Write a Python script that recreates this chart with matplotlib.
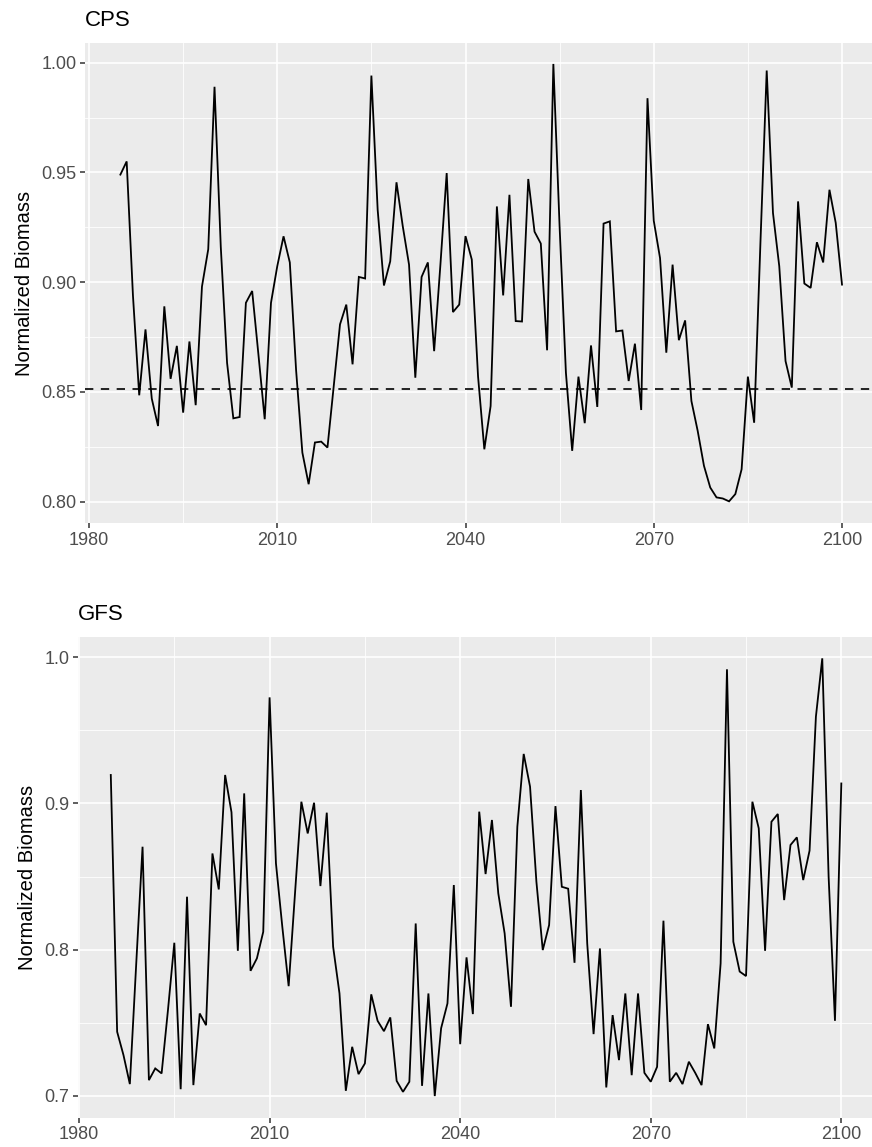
import numpy as np
import matplotlib
matplotlib.use("Agg")
import matplotlib.pyplot as plt
from matplotlib.ticker import FixedLocator, FixedFormatter

plt.rcParams['font.family'] = ['Liberation Sans', 'DejaVu Sans']

years = list(range(1985, 2101))

cps_biomass = [
    0.949, 0.955, 0.894, 0.8485, 0.8785, 0.847, 0.8345, 0.889, 0.856, 0.871,
    0.8406, 0.873, 0.844, 0.898, 0.915, 0.989, 0.916, 0.8633, 0.838, 0.8386,
    0.8906, 0.896, 0.867, 0.8376, 0.8906, 0.9073, 0.9209, 0.909, 0.860, 0.8224,
    0.808, 0.827, 0.8274, 0.8247, 0.8527, 0.8808, 0.8898, 0.8626, 0.9024, 0.9017,
    0.9941, 0.933, 0.8985, 0.9095, 0.9455, 0.9255, 0.908, 0.8565, 0.9024, 0.909,
    0.8686, 0.908, 0.9497, 0.8864, 0.8898, 0.921, 0.9103, 0.857, 0.8239, 0.8436,
    0.9345, 0.894, 0.9398, 0.8823, 0.8821, 0.947, 0.923, 0.9176, 0.869, 0.9994,
    0.925, 0.8588, 0.8232, 0.857, 0.8358, 0.8712, 0.8432, 0.9267, 0.9277, 0.8776,
    0.878, 0.855, 0.872, 0.8418, 0.9838, 0.9280, 0.911, 0.8679, 0.908, 0.8736,
    0.8826, 0.8459, 0.8323, 0.8164, 0.8065, 0.802, 0.8015, 0.8002, 0.8035, 0.8148,
    0.857, 0.836, 0.918, 0.9964, 0.9315, 0.9073, 0.8641, 0.852, 0.9368, 0.8994,
    0.8974, 0.9182, 0.909, 0.9421, 0.927, 0.8989,
]

gfs_biomass = [
    0.9195, 0.7438, 0.7278, 0.708, 0.790, 0.8704, 0.7107, 0.7187, 0.7153, 0.7586,
    0.8047, 0.7045, 0.8362, 0.7073, 0.7563, 0.7483, 0.8658, 0.8412, 0.9195, 0.894,
    0.7992, 0.9069, 0.7855, 0.794, 0.8122, 0.9726, 0.859, 0.8157, 0.775, 0.8385,
    0.9012, 0.8795, 0.9005, 0.8435, 0.8937, 0.802, 0.7701, 0.7034, 0.7335, 0.7148,
    0.7221, 0.7694, 0.7513, 0.7442, 0.7536, 0.7102, 0.7027, 0.7096, 0.8179, 0.7068,
    0.770, 0.6998, 0.7462, 0.7632, 0.8442, 0.7353, 0.7947, 0.7559, 0.8944, 0.8517,
    0.8887, 0.8385, 0.8111, 0.7609, 0.8841, 0.9339, 0.9115, 0.8465, 0.7997, 0.8168,
    0.8982, 0.843, 0.8417, 0.791, 0.9092, 0.8042, 0.7422, 0.8008, 0.7057, 0.7552,
    0.7244, 0.770, 0.7141, 0.770, 0.7157, 0.7096, 0.7198, 0.8198, 0.7096, 0.7157,
    0.708, 0.7233, 0.7157, 0.7073, 0.749, 0.7324, 0.7906, 0.9918, 0.8054, 0.785,
    0.7819, 0.9012, 0.883, 0.7992, 0.8875, 0.8928, 0.8339, 0.8716, 0.8768, 0.8476,
    0.8677, 0.9594, 0.9993, 0.850, 0.7513, 0.9137,
]

cps_reference = 0.8515

x_ticks = [1980, 2010, 2040, 2070, 2100]
x_minor = [1995, 2025, 2055, 2085]
cps_yticks = [0.80, 0.85, 0.90, 0.95, 1.00]
cps_ylabels = ["0.80", "0.85", "0.90", "0.95", "1.00"]
cps_yminor = [0.825, 0.875, 0.925, 0.975]
gfs_yticks = [0.7, 0.8, 0.9, 1.0]
gfs_ylabels = ["0.7", "0.8", "0.9", "1.0"]
gfs_yminor = [0.75, 0.85, 0.95]

W, H = 872, 1147
fig = plt.figure(figsize=(W / 100, H / 100), dpi=100)
fig.patch.set_facecolor("white")

PANEL = "#EBEBEB"
TXT = "#4D4D4D"


def gg_axes(rect_px, xlim, ylim, yticks, ylabels, yminor, title):
    left, top, right, bottom = rect_px
    ax = fig.add_axes([left / W, 1 - bottom / H, (right - left) / W, (bottom - top) / H])
    ax.set_facecolor(PANEL)
    for s in ax.spines.values():
        s.set_visible(False)
    ax.set_xlim(*xlim)
    ax.set_ylim(*ylim)
    ax.xaxis.set_major_locator(FixedLocator(x_ticks))
    ax.xaxis.set_minor_locator(FixedLocator(x_minor))
    ax.yaxis.set_major_locator(FixedLocator(yticks))
    ax.yaxis.set_major_formatter(FixedFormatter(ylabels))
    ax.yaxis.set_minor_locator(FixedLocator(yminor))
    ax.grid(which="major", color="white", linewidth=1.2)
    ax.grid(which="minor", color="white", linewidth=0.6)
    ax.set_axisbelow(True)
    ax.tick_params(which="major", length=3.5, width=1.1, color="#333333",
                   labelcolor=TXT, labelsize=13, pad=2.5)
    ax.tick_params(which="minor", length=0)
    ax.set_ylabel("Normalized Biomass", fontsize=14.5, color="black", labelpad=5)
    ax.text(0.0, 1.0 + 17 / (bottom - top), title, transform=ax.transAxes,
            fontsize=16, color="black", ha="left", va="baseline")
    return ax


ax1 = gg_axes((85, 43.3, 872, 523.3), (1979.36, 2104.78), (0.7902, 1.0088),
              cps_yticks, cps_ylabels, cps_yminor, "CPS")
ax1.plot(years, cps_biomass, color="black", linewidth=1.3, solid_joinstyle="miter")
ax1.axhline(cps_reference, color="black", linewidth=1.2, linestyle=(0, (5, 4.5)))

ax2 = gg_axes((77.5, 637.3, 872, 1117.7), (1979.76, 2104.83), (0.685, 1.0137),
              gfs_yticks, gfs_ylabels, gfs_yminor, "GFS")
ax2.plot(years, gfs_biomass, color="black", linewidth=1.3, solid_joinstyle="miter")

fig.savefig("out.png", dpi=100, facecolor="white")
